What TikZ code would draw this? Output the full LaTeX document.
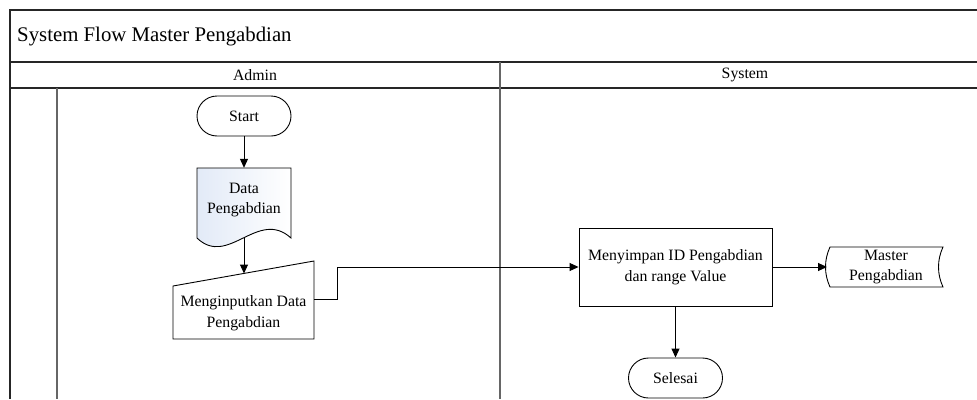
\documentclass[tikz,border=0pt]{standalone}
\usepackage{fontspec}
\setmainfont{Liberation Serif}
\usetikzlibrary{arrows.meta}

\definecolor{docblue}{RGB}{226,234,247}
\newcommand\bodyfont{\fontsize{15.8}{20.5}\selectfont}
\newcommand\titlefont{\fontsize{20.8}{26}\selectfont}

\begin{document}
\begin{tikzpicture}[x=1pt,y=-1pt,
  frame/.style={line width=1.1pt, draw=black!85},
  laneline/.style={line width=1.3pt, draw=black!60},
  shapeline/.style={line width=0.9pt, draw=black},
  flow/.style={line width=1pt, -{Triangle[length=9pt,width=8pt]}},
  label/.style={font=\bodyfont, align=center, inner sep=0pt},
  terminal/.style={shapeline, label, rounded corners=20pt, minimum width=94pt, minimum height=40pt},
  process/.style={shapeline, label, minimum width=193pt, minimum height=78pt}]

\useasboundingbox (0,0) rectangle (977,399);

% swimlane frame
\draw[frame] (977,10) -- (10,10) -- (10,399);
\draw[frame] (10,62) -- (977,62);
\draw[frame] (10,88) -- (977,88);
\draw[laneline] (500,62) -- (500,399);
\draw[laneline] (57,88) -- (57,399);

\node[anchor=west, font=\titlefont, inner sep=0pt] (title) at (17,37) {System Flow Master Pengabdian};
\node[label] (admin) at (255,75) {Admin};
\node[label] (system) at (745,75) {System};

% Admin lane
\node[terminal] (start) at (244,116) {Start};

\path[shapeline, left color=docblue, right color=white]
  (197,168) -- (291,168) -- (291,238)
  .. controls (258,208) and (228,268) .. (197,238) -- cycle;
\node[label, minimum width=94pt, minimum height=64pt] (data) at (244,200) {Data\\Pengabdian};
\coordinate (data-out) at (244,238);

\draw[shapeline] (173,286) -- (314,261) -- (314,339) -- (173,339) -- cycle;
\node[label, minimum width=141pt, minimum height=52pt] (input) at (243.5,313) {Menginputkan Data\\Pengabdian};
\coordinate (input-in) at (244,273.5);
\coordinate (input-out) at (314,299);
\coordinate (bend) at (337,267);

% System lane
\node[process] (proc) at (675.5,267) {Menyimpan ID Pengabdian\\dan range Value};

\draw[shapeline] (830,247) -- (943,247)
  .. controls (937,260) and (937,274) .. (943,287)
  -- (830,287)
  .. controls (824,274) and (824,260) .. (830,247) -- cycle;
\node[label, minimum width=110pt, minimum height=40pt] (master) at (886,267) {Master\\Pengabdian};
\coordinate (master-in) at (827,267);

\node[terminal] (end) at (675.5,378) {Selesai};

% connectors
\draw[flow] (start.south) -- (data.north);
\draw[flow] (data-out) -- (input-in);
\draw[flow] (input-out) -| (bend) -- (proc.west);
\draw[flow] (proc.east) -- (master-in);
\draw[flow] (proc.south) -- (end.north);
\end{tikzpicture}
\end{document}
